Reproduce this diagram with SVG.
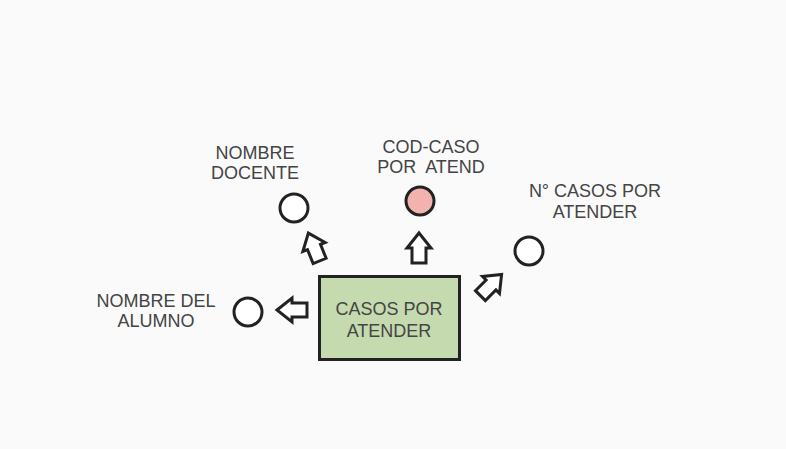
<svg xmlns="http://www.w3.org/2000/svg" width="786" height="449" viewBox="0 0 786 449">
<style>
.t{font-family:"Liberation Sans",Arial,sans-serif;font-size:18px;fill:#444;text-anchor:middle}
.c{fill:#fff;stroke:#222;stroke-width:3}
.a{fill:#fff;stroke:#222;stroke-width:3;stroke-linejoin:miter}
</style>
<defs>
<path id="arr" d="M0,-15 L12,0 L7,0 L7,15 L-7,15 L-7,0 L-12,0 Z"/>
</defs>
<rect width="786" height="449" fill="#fafafa"/>
<g id="connectors">
<use href="#arr" class="a" transform="translate(419,248)"/>
<use href="#arr" class="a" transform="translate(292,310) rotate(-90)"/>
<use href="#arr" class="a" transform="translate(314,247) rotate(-22)"/>
<use href="#arr" class="a" transform="translate(491,285) rotate(45)"/>
</g>
<g id="casos">
<rect x="319.5" y="276.5" width="140" height="83" fill="#c5dbaf" stroke="#222" stroke-width="3"/>
<text class="t" x="389" y="315">CASOS POR</text>
<text class="t" x="389" y="337">ATENDER</text>
</g>
<g id="nombre-docente">
<circle class="c" cx="294" cy="208" r="14"/>
<text class="t" x="255" y="159">NOMBRE</text>
<text class="t" x="255" y="179">DOCENTE</text>
</g>
<g id="cod-caso">
<circle cx="420" cy="201" r="14" fill="#f2b3b0" stroke="#222" stroke-width="3"/>
<text class="t" x="431" y="153">COD-CASO</text>
<text class="t" x="431" y="173" xml:space="preserve">POR  ATEND</text>
</g>
<g id="n-casos">
<circle class="c" cx="529" cy="251" r="14"/>
<text class="t" x="595" y="197">N° CASOS POR</text>
<text class="t" x="595" y="218">ATENDER</text>
</g>
<g id="nombre-alumno">
<circle class="c" cx="248" cy="312" r="14"/>
<text class="t" x="156" y="307">NOMBRE DEL</text>
<text class="t" x="156" y="327">ALUMNO</text>
</g>
</svg>
